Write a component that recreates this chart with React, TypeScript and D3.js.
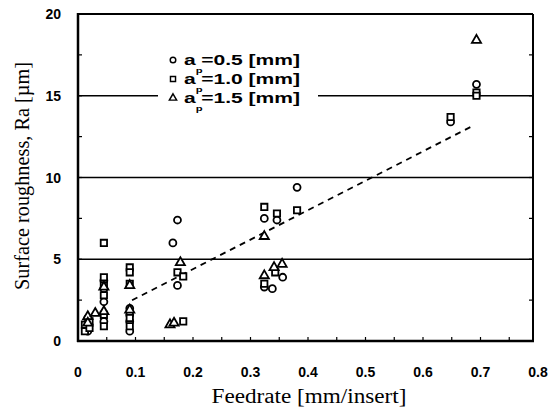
import React from "react";
import * as d3 from "d3";

const xTicks = [0, 0.1, 0.2, 0.3, 0.4, 0.5, 0.6, 0.7, 0.8];
const yTicks = [0, 5, 10, 15, 20];
const gridValues = [5, 10, 15];

// ap = 0.5 mm (circles)
const circleX = [0.017, 0.017, 0.017, 0.045, 0.045, 0.045, 0.045, 0.09, 0.09, 0.09, 0.09, 0.165, 0.173, 0.173, 0.324, 0.324, 0.338, 0.346, 0.356, 0.381, 0.648, 0.693];
const circleY = [0.6, 1.0, 1.4, 1.2, 2.4, 3.2, 3.7, 0.6, 1.2, 1.6, 2.0, 6.0, 7.4, 3.4, 7.5, 3.3, 3.2, 7.4, 3.9, 9.4, 13.4, 15.7];
// ap = 1.0 mm (squares)
const squareX = [0.012, 0.012, 0.02, 0.02, 0.045, 0.045, 0.045, 0.045, 0.045, 0.045, 0.09, 0.09, 0.09, 0.09, 0.09, 0.173, 0.183, 0.183, 0.324, 0.324, 0.343, 0.346, 0.381, 0.648, 0.693, 0.693];
const squareY = [0.6, 1.0, 0.8, 1.2, 6.0, 3.9, 3.4, 2.8, 1.6, 0.9, 4.5, 4.2, 3.5, 1.4, 0.9, 4.2, 3.95, 1.2, 8.2, 3.5, 4.2, 7.8, 8.0, 13.7, 15.2, 15.0];
// ap = 1.5 mm (triangles)
const triX = [0.017, 0.017, 0.03, 0.045, 0.045, 0.09, 0.09, 0.16, 0.167, 0.178, 0.324, 0.324, 0.341, 0.355, 0.693];
const triY = [1.5, 1.1, 1.7, 1.8, 3.3, 3.4, 1.9, 1.0, 1.1, 4.8, 6.4, 4.0, 4.5, 4.7, 18.4];

// trend line endpoints (x values) and fitted line y = a + b x
const trendX = [0.094, 0.69];
const trendA = 0.8;
const trendB = 18;

const legendLabels = ["=0.5 [mm]", "=1.0 [mm]", "=1.5 [mm]"];

const W = 556;
const H = 409;
const left = 78;
const right = 533;
const top = 14;
const bottom = 341;

export default function App() {
  const x = d3.scaleLinear().domain([0, 0.8]).range([78, 538]);
  const y = d3.scaleLinear().domain([0, 20]).range([341, 14]);

  const sym = (type: d3.SymbolType, size: number) => d3.symbol().type(type).size(size)()!;
  const circlePath = sym(d3.symbolCircle, 38);
  const squarePath = sym(d3.symbolSquare, 40);
  const triPath = sym(d3.symbolTriangle, 36);

  const line = d3.line<number>().x((d) => x(d)).y((d) => y(trendA + trendB * d));

  const minorY = d3.range(0, 20.01, 2.5);
  const minorX = d3.range(0, 0.79, 0.05);

  const markerStyle = { fill: "white", stroke: "#000", strokeWidth: 1.8 };

  const series = [
    { xs: circleX, ys: circleY, path: circlePath },
    { xs: squareX, ys: squareY, path: squarePath },
    { xs: triX, ys: triY, path: triPath },
  ];

  const legendRows = [60, 79, 98];
  const legendPaths = [circlePath, squarePath, triPath];
  const sans = "Liberation Sans, Arial, sans-serif";
  const serif = "Liberation Serif, Times New Roman, serif";

  return (
    <svg width={W} height={H} style={{ position: "absolute", left: 0, top: 0, background: "white" }}>
      {/* gridlines */}
      {gridValues.map((g) => (
        <line key={g} x1={left} x2={right} y1={y(g)} y2={y(g)} stroke="#000" strokeWidth={1.3} />
      ))}
      {/* legend box hiding grid */}
      <rect x={158} y={48} width={160} height={70} fill="white" />
      {/* frame */}
      <line x1={left} x2={right} y1={top} y2={top} stroke="#000" strokeWidth={2} />
      <line x1={right} x2={right} y1={top} y2={bottom} stroke="#000" strokeWidth={2} />
      <line x1={left} x2={left} y1={top - 1} y2={bottom + 1} stroke="#000" strokeWidth={2.5} />
      <line x1={left - 1} x2={right + 1} y1={bottom} y2={bottom} stroke="#000" strokeWidth={2.5} />
      {/* minor ticks */}
      {minorY.map((v) => (
        <g key={"my" + v}>
          <line x1={left} x2={left + 4} y1={y(v)} y2={y(v)} stroke="#000" strokeWidth={1.2} />
          <line x1={right} x2={right - 4} y1={y(v)} y2={y(v)} stroke="#000" strokeWidth={1.2} />
        </g>
      ))}
      {minorX.map((v) => (
        <line key={"mx" + v} x1={x(v)} x2={x(v)} y1={bottom} y2={bottom - 4} stroke="#000" strokeWidth={1.2} />
      ))}
      {/* tick labels */}
      {yTicks.map((v) => (
        <text key={"yt" + v} x={61} y={y(v) + 5} textAnchor="end" fontFamily={sans} fontWeight="bold" fontSize={14}>
          {v}
        </text>
      ))}
      {xTicks.map((v) => (
        <text key={"xt" + v} x={x(v)} y={377} textAnchor="middle" fontFamily={sans} fontWeight="bold" fontSize={14}>
          {v === 0 ? "0" : d3.format(".1f")(v)}
        </text>
      ))}
      {/* axis titles */}
      <text x={309} y={403} textAnchor="middle" fontFamily={serif} fontSize={20} textLength={195} lengthAdjust="spacingAndGlyphs">
        Feedrate [mm/insert]
      </text>
      <text transform={`translate(29,176) rotate(-90)`} textAnchor="middle" fontFamily={serif} fontSize={20} textLength={228} lengthAdjust="spacingAndGlyphs">
        Surface roughness, Ra [µm]
      </text>
      {/* trend line */}
      <path d={line(trendX)!} fill="none" stroke="#000" strokeWidth={1.8} strokeDasharray="6,5" />
      {/* data */}
      {series.map((s, si) =>
        s.xs.map((xv, i) => (
          <path key={si + "-" + i} d={s.path} transform={`translate(${x(xv)},${y(s.ys[i])})`} {...markerStyle} />
        ))
      )}
      {/* legend */}
      {legendRows.map((ry, i) => (
        <g key={"lg" + i}>
          <path d={legendPaths[i]} transform={`translate(173,${ry}) scale(0.8)`} {...markerStyle} />
          <text x={184} y={ry + 5} fontFamily={sans} fontWeight="bold" fontSize={15} textLength={116} lengthAdjust="spacingAndGlyphs">
            a
            <tspan dy={8} fontSize={8}>p</tspan>
            <tspan dy={-8} dx={-1}>{legendLabels[i]}</tspan>
          </text>
        </g>
      ))}
    </svg>
  );
}
